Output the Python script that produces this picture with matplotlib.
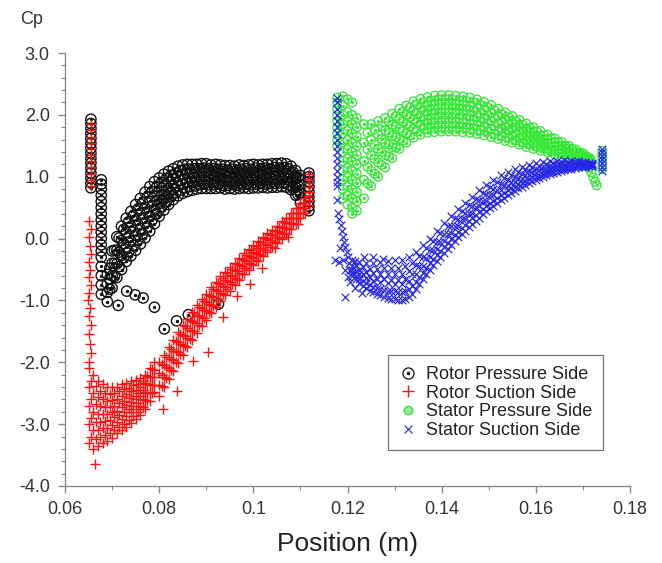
import numpy as np
import matplotlib
matplotlib.use("Agg")
import matplotlib.pyplot as plt
from matplotlib.lines import Line2D
from matplotlib.legend_handler import HandlerTuple

plt.rcParams['font.family'] = ['Liberation Sans', 'DejaVu Sans']

# ---------------- Rotor Pressure Side (black circles) ----------------
rps_band_x = [0.069, 0.070, 0.071, 0.072, 0.073, 0.074, 0.075, 0.076, 0.077, 0.078, 0.079,
              0.080, 0.081, 0.082, 0.083, 0.084, 0.085, 0.086, 0.087, 0.088, 0.089, 0.090,
              0.091, 0.092, 0.093, 0.094, 0.095, 0.096, 0.097, 0.098, 0.099, 0.100, 0.101,
              0.102, 0.103, 0.104, 0.105, 0.106, 0.107, 0.108, 0.109, 0.110]
rps_top = [-0.58, -0.2, 0.03, 0.2, 0.33, 0.44, 0.55, 0.65, 0.75, 0.84, 0.92, 0.98, 1.04, 1.09,
           1.13, 1.17, 1.19, 1.2, 1.2, 1.2, 1.21, 1.21, 1.19, 1.2, 1.19, 1.18, 1.18, 1.17, 1.19,
           1.18, 1.19, 1.2, 1.19, 1.2, 1.2, 1.21, 1.21, 1.22, 1.21, 1.17, 1.1, 1.02]
rps_up = [-0.73, -0.4, -0.19, -0.03, 0.1, 0.2, 0.3, 0.4, 0.5, 0.6, 0.69, 0.77, 0.85, 0.91,
          0.96, 1.01, 1.04, 1.05, 1.06, 1.07, 1.08, 1.08, 1.06, 1.07, 1.06, 1.05, 1.06, 1.05,
          1.06, 1.06, 1.07, 1.07, 1.07, 1.08, 1.07, 1.08, 1.09, 1.09, 1.08, 1.05, 0.97, 0.87]
rps_low = [-0.87, -0.6, -0.41, -0.27, -0.14, -0.04, 0.06, 0.16, 0.26, 0.36, 0.47, 0.57, 0.65,
           0.73, 0.8, 0.85, 0.88, 0.91, 0.92, 0.93, 0.94, 0.94, 0.94, 0.93, 0.94, 0.93, 0.93,
           0.92, 0.94, 0.93, 0.94, 0.95, 0.94, 0.95, 0.95, 0.96, 0.95, 0.97, 0.96, 0.92, 0.83, 0.73]
rps_bot = [-1.02, -0.8, -0.63, -0.5, -0.37, -0.28, -0.19, -0.09, 0.01, 0.12, 0.24, 0.36, 0.46,
           0.55, 0.63, 0.69, 0.73, 0.76, 0.78, 0.8, 0.81, 0.81, 0.81, 0.81, 0.82, 0.8, 0.81,
           0.8, 0.81, 0.82, 0.81, 0.82, 0.82, 0.83, 0.82, 0.83, 0.83, 0.84, 0.83, 0.79, 0.7, 0.58]
rps_mid_x = [0.0695, 0.0705, 0.0715, 0.0725, 0.0735, 0.0745, 0.0755, 0.0765, 0.0775, 0.0785,
             0.0795, 0.0805, 0.0815, 0.0825, 0.0835, 0.0845, 0.0855, 0.0865, 0.0875, 0.0885,
             0.0895, 0.0905, 0.0915, 0.0925, 0.0935, 0.0945, 0.0955, 0.0965, 0.0975, 0.0985,
             0.0995, 0.1005, 0.1015, 0.1025, 0.1035, 0.1045, 0.1055, 0.1065, 0.1075, 0.1085, 0.1095]
rps_m0 = [-0.48, -0.19, 0.01, 0.15, 0.27, 0.37, 0.48, 0.58, 0.67, 0.76, 0.84, 0.91, 0.97, 1.02,
          1.06, 1.1, 1.12, 1.12, 1.13, 1.13, 1.14, 1.13, 1.13, 1.12, 1.12, 1.11, 1.12, 1.11, 1.12,
          1.13, 1.12, 1.14, 1.13, 1.14, 1.13, 1.15, 1.14, 1.15, 1.13, 1.07, 0.99]
rps_m1 = [-0.65, -0.4, -0.22, -0.08, 0.03, 0.13, 0.23, 0.33, 0.43, 0.53, 0.62, 0.71, 0.78, 0.85,
          0.9, 0.94, 0.97, 0.98, 0.99, 1.0, 1.01, 1.0, 1.0, 1.0, 0.99, 0.99, 0.99, 0.99, 1.0, 1.0,
          1.0, 1.01, 1.01, 1.01, 1.01, 1.02, 1.02, 1.03, 1.0, 0.94, 0.85]
rps_m2 = [-0.82, -0.61, -0.45, -0.31, -0.21, -0.11, -0.02, 0.08, 0.19, 0.3, 0.4, 0.51, 0.59,
          0.68, 0.74, 0.78, 0.82, 0.84, 0.85, 0.87, 0.88, 0.87, 0.87, 0.88, 0.86, 0.86, 0.87,
          0.86, 0.87, 0.88, 0.87, 0.88, 0.89, 0.88, 0.89, 0.89, 0.9, 0.9, 0.87, 0.81, 0.71]
rps_le_x = 0.0655
rps_le_y = [0.82, 0.9, 0.98, 1.06, 1.14, 1.22, 1.3, 1.38, 1.46, 1.54, 1.62, 1.7, 1.78, 1.86, 1.93]
rps_drop_x = 0.0677
rps_drop_y = [0.95, 0.88, 0.8, 0.7, 0.6, 0.5, 0.4, 0.3, 0.2, 0.1, 0.0, -0.1, -0.2, -0.3,
              -0.45, -0.6, -0.75, -0.9]
rps_te_x = 0.1118
rps_te_y = [0.45, 0.52, 0.6, 0.68, 0.76, 0.84, 0.92, 1.0, 1.06]
rps_out_x = [0.0713, 0.0731, 0.0749, 0.0766, 0.0790, 0.0811, 0.0837, 0.0862, 0.0926]
rps_out_y = [-1.08, -0.85, -0.91, -0.96, -1.11, -1.46, -1.33, -1.23, -1.06]

# ---------------- Rotor Suction Side (red +) ----------------
rss_le_x = 0.0655
rss_le_y = [0.85, 0.95, 1.05, 1.15, 1.25, 1.35, 1.45, 1.55, 1.65, 1.75, 1.85]
rss_col_x = [0.0652, 0.0655, 0.0650, 0.0653, 0.0656, 0.0651, 0.0654, 0.0650, 0.0655, 0.0652,
             0.0649, 0.0654, 0.0651, 0.0656, 0.0650, 0.0653, 0.0655, 0.0651]
rss_col_y = [0.28, 0.15, 0.02, -0.12, -0.25, -0.38, -0.5, -0.62, -0.75, -0.88, -1.0, -1.12,
             -1.25, -1.4, -1.55, -1.7, -1.85, -2.0]
rss_pit_x = [0.065, 0.066, 0.067, 0.068, 0.069, 0.070, 0.071, 0.072, 0.073, 0.074, 0.075,
             0.076, 0.077, 0.078, 0.079]
rss_pit0 = [-2.1, -2.2, -2.3, -2.35, -2.4, -2.4, -2.4, -2.35, -2.33, -2.3, -2.28, -2.25, -2.2, -2.1, -2.0]
rss_pit1 = [-2.4, -2.5, -2.56, -2.59, -2.62, -2.61, -2.59, -2.54, -2.51, -2.47, -2.44, -2.4, -2.34, -2.23, -2.12]
rss_pit2 = [-2.7, -2.8, -2.83, -2.83, -2.84, -2.81, -2.78, -2.73, -2.69, -2.64, -2.6, -2.55, -2.48, -2.36, -2.24]
rss_pit3 = [-3.0, -3.1, -3.09, -3.06, -3.06, -3.02, -2.96, -2.91, -2.87, -2.81, -2.76, -2.7, -2.61, -2.49, -2.36]
rss_pit4 = [-3.3, -3.4, -3.35, -3.3, -3.28, -3.22, -3.15, -3.1, -3.05, -2.98, -2.92, -2.85, -2.75, -2.62, -2.48]
rss_pitm_x = [0.0655, 0.0665, 0.0675, 0.0685, 0.0695, 0.0705, 0.0715, 0.0725, 0.0735, 0.0745,
              0.0755, 0.0765, 0.0775, 0.0785]
rss_pm0 = [-2.3, -2.39, -2.46, -2.49, -2.51, -2.5, -2.47, -2.43, -2.41, -2.37, -2.35, -2.3, -2.22, -2.11]
rss_pm1 = [-2.6, -2.67, -2.71, -2.72, -2.72, -2.7, -2.66, -2.62, -2.58, -2.54, -2.5, -2.44, -2.35, -2.24]
rss_pm2 = [-2.9, -2.96, -2.96, -2.95, -2.93, -2.89, -2.85, -2.8, -2.76, -2.7, -2.66, -2.59, -2.49, -2.36]
rss_pm3 = [-3.2, -3.24, -3.21, -3.18, -3.14, -3.09, -3.04, -2.99, -2.93, -2.87, -2.81, -2.73, -2.62, -2.49]
rss_band_x = [0.080, 0.081, 0.082, 0.083, 0.084, 0.085, 0.086, 0.087, 0.088, 0.089, 0.090,
              0.091, 0.092, 0.093, 0.094, 0.095, 0.096, 0.097, 0.098, 0.099, 0.100, 0.101,
              0.102, 0.103, 0.104, 0.105, 0.106, 0.107, 0.108, 0.109, 0.110, 0.111]
rss_b0 = [-2.0, -1.88, -1.75, -1.64, -1.51, -1.4, -1.3, -1.18, -1.08, -0.98, -0.89, -0.79, -0.7,
          -0.61, -0.54, -0.46, -0.39, -0.31, -0.24, -0.17, -0.11, -0.04, 0.02, 0.09, 0.14, 0.21,
          0.28, 0.34, 0.42, 0.5, 0.57, 0.66]
rss_b1 = [-2.18, -2.05, -1.92, -1.81, -1.68, -1.56, -1.45, -1.33, -1.23, -1.13, -1.03, -0.93,
          -0.83, -0.74, -0.67, -0.59, -0.51, -0.43, -0.35, -0.28, -0.22, -0.15, -0.08, -0.01,
          0.05, 0.12, 0.19, 0.25, 0.33, 0.41, 0.49, 0.58]
rss_b2 = [-2.36, -2.23, -2.1, -1.97, -1.84, -1.72, -1.61, -1.49, -1.37, -1.27, -1.17, -1.07,
          -0.97, -0.88, -0.79, -0.71, -0.63, -0.55, -0.47, -0.4, -0.32, -0.25, -0.18, -0.11,
          -0.05, 0.02, 0.09, 0.17, 0.25, 0.33, 0.41, 0.5]
rss_b3 = [-2.54, -2.4, -2.27, -2.14, -2.01, -1.88, -1.76, -1.64, -1.52, -1.42, -1.31, -1.21,
          -1.1, -1.01, -0.92, -0.84, -0.75, -0.67, -0.58, -0.51, -0.43, -0.36, -0.28, -0.21,
          -0.14, -0.07, 0.0, 0.08, 0.16, 0.24, 0.33, 0.42]
rss_mid_x = [0.0805, 0.0815, 0.0825, 0.0835, 0.0845, 0.0855, 0.0865, 0.0875, 0.0885, 0.0895,
             0.0905, 0.0915, 0.0925, 0.0935, 0.0945, 0.0955, 0.0965, 0.0975, 0.0985, 0.0995,
             0.1005, 0.1015, 0.1025, 0.1035, 0.1045, 0.1055, 0.1065, 0.1075, 0.1085, 0.1095, 0.1105]
rss_m0 = [-2.02, -1.91, -1.78, -1.65, -1.54, -1.42, -1.32, -1.2, -1.1, -1.01, -0.91, -0.81, -0.72,
          -0.64, -0.56, -0.49, -0.41, -0.33, -0.26, -0.19, -0.12, -0.06, 0.01, 0.07, 0.12, 0.19,
          0.26, 0.34, 0.42, 0.49, 0.57]
rss_m1 = [-2.2, -2.08, -1.95, -1.82, -1.7, -1.58, -1.47, -1.35, -1.25, -1.15, -1.05, -0.95, -0.85,
          -0.77, -0.69, -0.61, -0.53, -0.45, -0.37, -0.3, -0.23, -0.16, -0.09, -0.03, 0.03, 0.1,
          0.17, 0.25, 0.33, 0.41, 0.49]
rss_m2 = [-2.38, -2.25, -2.12, -1.99, -1.86, -1.74, -1.62, -1.5, -1.4, -1.29, -1.19, -1.09, -0.98,
          -0.9, -0.82, -0.73, -0.65, -0.57, -0.48, -0.41, -0.34, -0.26, -0.19, -0.13, -0.06, 0.01,
          0.08, 0.16, 0.24, 0.33, 0.41]
rss_te_x = 0.1118
rss_te_y = [0.55, 0.62, 0.69, 0.76, 0.83, 0.9, 0.97, 1.04]
rss_out_x = [0.0664, 0.0808, 0.0837, 0.0872, 0.0904, 0.0936, 0.0965, 0.0993, 0.1018, 0.1046, 0.1074, 0.1095]
rss_out_y = [-3.65, -2.76, -2.46, -1.98, -1.84, -1.27, -0.93, -0.74, -0.47, -0.15, 0.03, 0.23]

# ---------------- Stator Pressure Side (green circles) ----------------
sps_band_x = [0.1235, 0.125, 0.1265, 0.128, 0.1295, 0.131, 0.1325, 0.134, 0.1355, 0.137, 0.1385,
              0.140, 0.1415, 0.143, 0.1445, 0.146, 0.1475, 0.149, 0.1505, 0.152, 0.1535, 0.155,
              0.1565, 0.158, 0.1595, 0.161, 0.1625, 0.164, 0.1655, 0.167, 0.1685, 0.170, 0.1715]
sps_g0 = [1.85, 1.85, 1.9, 1.95, 2.02, 2.1, 2.15, 2.22, 2.26, 2.29, 2.31, 2.32, 2.32, 2.31, 2.3,
          2.28, 2.25, 2.21, 2.16, 2.1, 2.04, 1.98, 1.92, 1.86, 1.8, 1.74, 1.68, 1.62, 1.56, 1.5,
          1.44, 1.38, 1.3]
sps_g1 = [1.55, 1.6, 1.68, 1.75, 1.84, 1.94, 2.0, 2.07, 2.12, 2.15, 2.16, 2.17, 2.17, 2.17, 2.16,
          2.14, 2.11, 2.08, 2.03, 1.98, 1.93, 1.87, 1.82, 1.77, 1.71, 1.66, 1.61, 1.56, 1.5, 1.45,
          1.4, 1.35, 1.28]
sps_g2 = [1.25, 1.35, 1.45, 1.55, 1.66, 1.78, 1.85, 1.93, 1.97, 2.0, 2.02, 2.03, 2.03, 2.02, 2.01,
          1.99, 1.97, 1.94, 1.9, 1.86, 1.81, 1.77, 1.72, 1.67, 1.63, 1.58, 1.54, 1.49, 1.45, 1.4,
          1.36, 1.32, 1.26]
sps_g3 = [0.95, 1.1, 1.23, 1.35, 1.48, 1.61, 1.7, 1.78, 1.83, 1.86, 1.87, 1.88, 1.88, 1.88, 1.87,
          1.85, 1.83, 1.81, 1.77, 1.73, 1.7, 1.66, 1.62, 1.58, 1.54, 1.5, 1.46, 1.43, 1.39, 1.35,
          1.32, 1.29, 1.24]
sps_g4 = [0.65, 0.85, 1.0, 1.15, 1.3, 1.45, 1.55, 1.63, 1.68, 1.71, 1.72, 1.73, 1.73, 1.73, 1.72,
          1.71, 1.69, 1.67, 1.64, 1.61, 1.58, 1.55, 1.52, 1.48, 1.45, 1.42, 1.39, 1.36, 1.33, 1.3,
          1.28, 1.26, 1.22]
sps_mid_x = [0.12425, 0.12575, 0.12725, 0.12875, 0.13025, 0.13175, 0.13325, 0.13475, 0.13625,
             0.13775, 0.13925, 0.14075, 0.14225, 0.14375, 0.14525, 0.14675, 0.14825, 0.14975,
             0.15125, 0.15275, 0.15425, 0.15575, 0.15725, 0.15875, 0.16025, 0.16175, 0.16325,
             0.16475, 0.16625, 0.16775, 0.16925, 0.17075]
sps_m0 = [1.71, 1.76, 1.82, 1.9, 1.98, 2.05, 2.12, 2.17, 2.21, 2.23, 2.25, 2.25, 2.25, 2.23, 2.22,
          2.2, 2.16, 2.12, 2.07, 2.01, 1.96, 1.9, 1.84, 1.79, 1.73, 1.67, 1.62, 1.56, 1.5, 1.45,
          1.39, 1.33]
sps_m1 = [1.44, 1.52, 1.61, 1.71, 1.81, 1.89, 1.97, 2.02, 2.06, 2.08, 2.1, 2.1, 2.1, 2.09, 2.08,
          2.06, 2.02, 1.99, 1.94, 1.89, 1.85, 1.8, 1.74, 1.7, 1.65, 1.6, 1.55, 1.5, 1.45, 1.4,
          1.36, 1.3]
sps_m2 = [1.16, 1.29, 1.4, 1.52, 1.64, 1.74, 1.82, 1.88, 1.92, 1.94, 1.95, 1.95, 1.95, 1.94, 1.93,
          1.91, 1.89, 1.86, 1.82, 1.78, 1.74, 1.69, 1.65, 1.61, 1.56, 1.52, 1.48, 1.44, 1.4, 1.36,
          1.32, 1.28]
sps_m3 = [0.89, 1.05, 1.19, 1.33, 1.47, 1.58, 1.67, 1.73, 1.77, 1.79, 1.8, 1.8, 1.8, 1.8, 1.79,
          1.77, 1.75, 1.73, 1.69, 1.66, 1.63, 1.59, 1.55, 1.52, 1.48, 1.45, 1.41, 1.38, 1.35, 1.31,
          1.29, 1.25]
sps_le_x = [0.1178, 0.119, 0.120, 0.121, 0.122]
sps_le0 = [1.5, 1.6, 1.7, 1.8, 1.9, 2.0, 2.1, 2.2, 2.28]
sps_le1 = [2.3, 2.15, 2.0, 1.85, 1.7, 1.55, 1.4, 1.25, 1.1, 0.95, 0.8, 0.65]
sps_le2 = [2.25, 2.05, 1.9, 1.75, 1.6, 1.45, 1.3, 1.15, 1.0, 0.85, 0.7, 0.55]
sps_le3 = [2.2, 2.0, 1.85, 1.7, 1.55, 1.4, 1.25, 1.1, 0.95, 0.8, 0.65, 0.5, 0.4]
sps_le4 = [1.95, 1.8, 1.65, 1.5, 1.35, 1.2, 1.05, 0.9, 0.75, 0.6, 0.45]
sps_te_x = 0.1741
sps_te_y = [1.12, 1.18, 1.24, 1.3, 1.36, 1.42]
sps_dip_x = [0.1712, 0.1718, 0.1722, 0.1726, 0.1729]
sps_dip_y = [1.15, 1.07, 0.99, 0.92, 0.86]

# ---------------- Stator Suction Side (blue x) ----------------
sss_band_x = [0.121, 0.1225, 0.124, 0.1255, 0.127, 0.1285, 0.130, 0.1315, 0.133, 0.1345, 0.136,
              0.1375, 0.139, 0.1405, 0.142, 0.1435, 0.145, 0.1465, 0.148, 0.1495, 0.151, 0.1525,
              0.154, 0.1555, 0.157, 0.1585, 0.160, 0.1615, 0.163, 0.1645, 0.166, 0.1675, 0.169,
              0.1705, 0.172]
sss_b0 = [-0.35, -0.38, -0.4, -0.4, -0.38, -0.36, -0.35, -0.34, -0.3, -0.22, -0.1, 0.0, 0.12, 0.25,
          0.37, 0.48, 0.58, 0.68, 0.78, 0.87, 0.95, 1.03, 1.08, 1.12, 1.16, 1.19, 1.22, 1.24, 1.25,
          1.26, 1.27, 1.26, 1.25, 1.24, 1.22]
sss_b1 = [-0.44, -0.5, -0.54, -0.56, -0.57, -0.57, -0.57, -0.57, -0.53, -0.43, -0.3, -0.18, -0.05,
          0.08, 0.21, 0.32, 0.42, 0.53, 0.63, 0.72, 0.8, 0.89, 0.95, 1.0, 1.05, 1.09, 1.13, 1.16,
          1.18, 1.2, 1.21, 1.21, 1.22, 1.21, 1.2]
sss_b2 = [-0.5, -0.58, -0.64, -0.68, -0.7, -0.72, -0.73, -0.73, -0.69, -0.58, -0.44, -0.3, -0.17,
          -0.04, 0.09, 0.2, 0.31, 0.42, 0.52, 0.61, 0.7, 0.78, 0.85, 0.91, 0.97, 1.02, 1.06, 1.1,
          1.12, 1.15, 1.17, 1.18, 1.19, 1.19, 1.19]
sss_b3 = [-0.55, -0.65, -0.72, -0.78, -0.81, -0.84, -0.85, -0.86, -0.82, -0.7, -0.55, -0.4, -0.26,
          -0.13, 0.0, 0.11, 0.22, 0.33, 0.43, 0.53, 0.61, 0.7, 0.78, 0.84, 0.9, 0.96, 1.0, 1.05,
          1.08, 1.12, 1.14, 1.16, 1.17, 1.18, 1.18]
sss_b4 = [-0.6, -0.72, -0.8, -0.87, -0.92, -0.96, -0.98, -0.99, -0.95, -0.82, -0.66, -0.5, -0.36,
          -0.23, -0.1, 0.02, 0.13, 0.24, 0.34, 0.44, 0.53, 0.62, 0.7, 0.77, 0.84, 0.9, 0.95, 1.0,
          1.04, 1.08, 1.11, 1.13, 1.15, 1.16, 1.17]
sss_mid_x = [0.12175, 0.12325, 0.12475, 0.12625, 0.12775, 0.12925, 0.13075, 0.13225, 0.13375,
             0.13525, 0.13675, 0.13825, 0.13975, 0.14125, 0.14275, 0.14425, 0.14575, 0.14725,
             0.14875, 0.15025, 0.15175, 0.15325, 0.15475, 0.15625, 0.15775, 0.15925, 0.16075,
             0.16225, 0.16375, 0.16525, 0.16675, 0.16825, 0.16975, 0.17125]
sss_m0 = [-0.43, -0.46, -0.49, -0.49, -0.48, -0.48, -0.48, -0.45, -0.39, -0.28, -0.16, -0.04, 0.09,
          0.21, 0.34, 0.44, 0.54, 0.64, 0.74, 0.83, 0.91, 0.98, 1.03, 1.07, 1.12, 1.15, 1.18, 1.2,
          1.22, 1.24, 1.24, 1.24, 1.23, 1.22]
sss_m1 = [-0.52, -0.58, -0.62, -0.65, -0.66, -0.67, -0.67, -0.65, -0.58, -0.45, -0.32, -0.19,
          -0.06, 0.07, 0.2, 0.31, 0.41, 0.51, 0.61, 0.7, 0.79, 0.86, 0.92, 0.98, 1.03, 1.07, 1.11,
          1.14, 1.16, 1.19, 1.2, 1.2, 1.21, 1.2]
sss_m2 = [-0.6, -0.69, -0.75, -0.8, -0.83, -0.85, -0.86, -0.84, -0.76, -0.62, -0.47, -0.33, -0.2,
          -0.07, 0.05, 0.17, 0.28, 0.38, 0.48, 0.57, 0.66, 0.74, 0.81, 0.88, 0.93, 0.99, 1.03,
          1.07, 1.1, 1.13, 1.15, 1.16, 1.18, 1.18]
sss_m3 = [-0.66, -0.76, -0.84, -0.9, -0.94, -0.97, -0.99, -0.97, -0.89, -0.74, -0.58, -0.43, -0.3,
          -0.17, -0.04, 0.08, 0.19, 0.29, 0.39, 0.49, 0.58, 0.66, 0.74, 0.81, 0.87, 0.93, 0.98,
          1.02, 1.06, 1.1, 1.12, 1.14, 1.16, 1.17]
sss_le_x = 0.1178
sss_le_y = [0.63, 0.85, 0.92, 1.0, 1.1, 1.2, 1.3, 1.4, 1.5, 1.6, 1.7, 1.8, 1.9, 2.0, 2.1, 2.2, 2.28]
sss_drop_x = [0.1180, 0.1183, 0.1186, 0.1188, 0.1190, 0.1192, 0.1195, 0.1198, 0.1200, 0.1203,
              0.1206, 0.1185, 0.1190, 0.1195, 0.1200, 0.1173, 0.1182, 0.1215, 0.1235, 0.1255,
              0.1275, 0.1195, 0.1205, 0.1215, 0.123]
sss_drop_y = [0.42, 0.32, 0.22, 0.12, 0.03, -0.06, -0.14, -0.22, -0.3, -0.4, -0.5, -0.15, -0.35,
              -0.5, -0.62, -0.34, -0.38, -0.37, -0.3, -0.3, -0.33, -0.94, -0.7, -0.8, -0.88]
sss_te_x = 0.1741
sss_te_y = [1.1, 1.16, 1.22, 1.28, 1.34, 1.4, 1.45]

x_ticks = [0.06, 0.08, 0.1, 0.12, 0.14, 0.16, 0.18]
x_tick_labels = ['0.06', '0.08', '0.1', '0.12', '0.14', '0.16', '0.18']
y_ticks = [-4, -3, -2, -1, 0, 1, 2, 3]

black = '#111111'
red = '#ff1010'
green = '#35e835'
blue = '#2626e6'


def gather(xs, *rows):
    px, py = [], []
    for r in rows:
        px += list(xs)
        py += list(r)
    return px, py


def column(x, ys):
    return [x] * len(ys), list(ys)


def merge(parts):
    px, py = [], []
    for cx, cy in parts:
        px += list(cx)
        py += list(cy)
    return px, py


fig = plt.figure(figsize=(6.62, 5.63), dpi=100)
ax = fig.add_axes([65 / 662, 1 - 486 / 563, 565 / 662, 433 / 563])

# black
bx, by = merge([gather(rps_band_x, rps_top, rps_up, rps_low, rps_bot),
                gather(rps_mid_x, rps_m0, rps_m1, rps_m2),
                column(rps_le_x, rps_le_y), column(rps_drop_x, rps_drop_y),
                column(rps_te_x, rps_te_y), (rps_out_x, rps_out_y)])
ax.scatter(bx, by, s=55, facecolors='none', edgecolors=black, linewidths=1.0, zorder=2)
ax.scatter(bx, by, s=2, color=black, zorder=2)

# red
rx, ry = merge([gather(rss_pit_x, rss_pit0, rss_pit1, rss_pit2, rss_pit3, rss_pit4),
                gather(rss_pitm_x, rss_pm0, rss_pm1, rss_pm2, rss_pm3),
                gather(rss_band_x, rss_b0, rss_b1, rss_b2, rss_b3),
                gather(rss_mid_x, rss_m0, rss_m1, rss_m2),
                column(rss_le_x, rss_le_y), (rss_col_x, rss_col_y),
                column(rss_te_x, rss_te_y), (rss_out_x, rss_out_y)])
ax.scatter(rx, ry, s=60, marker='+', color=red, linewidths=1.0, zorder=3)

# green
gx, gy = merge([gather(sps_band_x, sps_g0, sps_g1, sps_g2, sps_g3, sps_g4),
                gather(sps_mid_x, sps_m0, sps_m1, sps_m2, sps_m3),
                column(sps_le_x[0], sps_le0), column(sps_le_x[1], sps_le1),
                column(sps_le_x[2], sps_le2), column(sps_le_x[3], sps_le3),
                column(sps_le_x[4], sps_le4), column(sps_te_x, sps_te_y),
                (sps_dip_x, sps_dip_y)])
ax.scatter(gx, gy, s=38, facecolors='none', edgecolors=green, linewidths=0.95, zorder=4)
ax.scatter(gx, gy, s=1.5, color=green, zorder=4)

# blue
ux, uy = merge([gather(sss_band_x, sss_b0, sss_b1, sss_b2, sss_b3, sss_b4),
                gather(sss_mid_x, sss_m0, sss_m1, sss_m2, sss_m3),
                column(sss_le_x, sss_le_y), (sss_drop_x, sss_drop_y),
                column(sss_te_x, sss_te_y)])
ax.scatter(ux, uy, s=30, marker='x', color=blue, linewidths=0.85, zorder=5)

# axes styling
ax.set_xlim(0.06, 0.18)
ax.set_ylim(-4, 3)
ax.set_xticks(x_ticks)
ax.set_xticklabels(x_tick_labels)
ax.set_xticks([0.07, 0.09, 0.11, 0.13, 0.15, 0.17], minor=True)
ax.set_yticks(y_ticks)
ax.set_yticklabels(['%.1f' % v for v in y_ticks])
ax.set_yticks([v / 5 for v in range(-20, 15) if v % 5 != 0], minor=True)
for s in ['top', 'right']:
    ax.spines[s].set_visible(False)
for s in ['left', 'bottom']:
    ax.spines[s].set_color('#8a8a8a')
    ax.spines[s].set_linewidth(1.0)
ax.tick_params(which='major', direction='out', length=5, width=1, color='#8a8a8a',
               labelsize=13, labelcolor='#333333', pad=6)
ax.tick_params(which='minor', direction='out', length=3, width=0.8, color='#8a8a8a')

ax.set_xlabel('Position (m)', fontsize=19, color='#222222', labelpad=10)
fig.text(32 / 662, 1 - 20 / 563, 'Cp', fontsize=13, color='#333333', ha='center', va='center')

# legend
h_black = (Line2D([], [], ls='none', marker='o', ms=8, mfc='none', mec=black, mew=0.9),
           Line2D([], [], ls='none', marker='o', ms=1.5, color=black))
h_red = Line2D([], [], ls='none', marker='+', ms=9, color=red, mew=1.0)
h_green = Line2D([], [], ls='none', marker='o', ms=6, mfc='#9af09a', mec=green, mew=1.0)
h_blue = Line2D([], [], ls='none', marker='x', ms=6, color=blue, mew=0.8)
leg = ax.legend([h_black, h_red, h_green, h_blue],
                ['Rotor Pressure Side', 'Rotor Suction Side', 'Stator Pressure Side',
                 'Stator Suction Side'],
                handler_map={tuple: HandlerTuple(ndivide=1)},
                loc='upper left', bbox_to_anchor=(0.572, 0.3025), fontsize=13,
                frameon=True, fancybox=False, edgecolor='#777777', framealpha=1,
                handlelength=1.0, handletextpad=0.5, labelspacing=0.1,
                borderpad=0.6, borderaxespad=0)
leg.get_frame().set_linewidth(0.9)
for t in leg.get_texts():
    t.set_color('#222222')

fig.savefig('out.png', dpi=100)
